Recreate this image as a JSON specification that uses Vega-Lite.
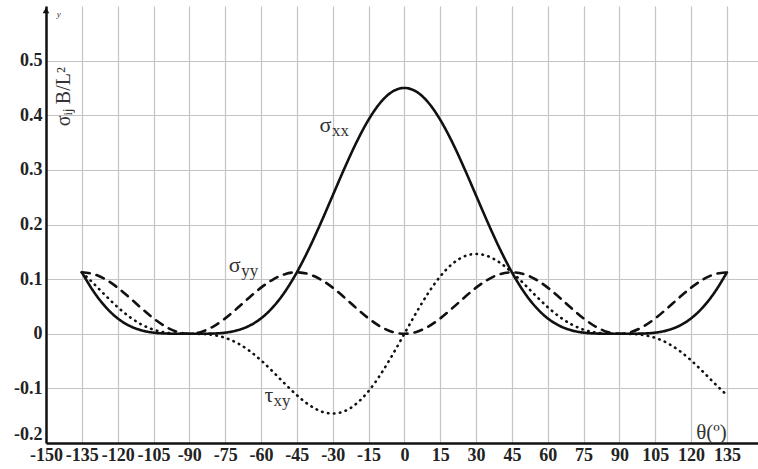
{
  "$schema": "https://vega.github.io/schema/vega-lite/v6.json",
  "width": 712,
  "height": 437,
  "autosize": {"type": "none"},
  "padding": {"left": 46, "top": 6, "right": 0, "bottom": 26},
  "background": "white",
  "view": {"stroke": null},
  "config": {
    "axis": {
      "domainColor": "#111",
      "domainWidth": 2.5,
      "gridColor": "#c4c4c4",
      "gridWidth": 1.2,
      "ticks": false,
      "labelFont": "Liberation Serif",
      "labelFontWeight": "bold",
      "labelFontSize": 18,
      "labelColor": "#222",
      "labelOverlap": false,
      "labelBound": false,
      "labelFlush": false,
      "title": null
    }
  },
  "datasets": {
    "curves": [
      {"theta": -135, "sxx": 0.1125, "syy": 0.1125, "txy": 0.1125},
      {"theta": -130, "sxx": 0.0768, "syy": 0.1091, "txy": 0.0916},
      {"theta": -125, "sxx": 0.0487, "syy": 0.0993, "txy": 0.0696},
      {"theta": -120, "sxx": 0.0281, "syy": 0.0844, "txy": 0.0487},
      {"theta": -115, "sxx": 0.0144, "syy": 0.0660, "txy": 0.0308},
      {"theta": -110, "sxx": 0.0062, "syy": 0.0465, "txy": 0.0169},
      {"theta": -105, "sxx": 0.0020, "syy": 0.0281, "txy": 0.0075},
      {"theta": -100, "sxx": 0.0004, "syy": 0.0132, "txy": 0.0023},
      {"theta": -95, "sxx": 0.0000, "syy": 0.0034, "txy": 0.0003},
      {"theta": -90, "sxx": 0, "syy": 0, "txy": 0},
      {"theta": -85, "sxx": 0.0000, "syy": 0.0034, "txy": -0.0003},
      {"theta": -80, "sxx": 0.0004, "syy": 0.0132, "txy": -0.0023},
      {"theta": -75, "sxx": 0.0020, "syy": 0.0281, "txy": -0.0075},
      {"theta": -70, "sxx": 0.0062, "syy": 0.0465, "txy": -0.0169},
      {"theta": -65, "sxx": 0.0144, "syy": 0.0660, "txy": -0.0308},
      {"theta": -60, "sxx": 0.0281, "syy": 0.0844, "txy": -0.0487},
      {"theta": -55, "sxx": 0.0487, "syy": 0.0993, "txy": -0.0696},
      {"theta": -50, "sxx": 0.0768, "syy": 0.1091, "txy": -0.0916},
      {"theta": -45, "sxx": 0.1125, "syy": 0.1125, "txy": -0.1125},
      {"theta": -40, "sxx": 0.1550, "syy": 0.1091, "txy": -0.1300},
      {"theta": -35, "sxx": 0.2026, "syy": 0.0993, "txy": -0.1419},
      {"theta": -30, "sxx": 0.2531, "syy": 0.0844, "txy": -0.1461},
      {"theta": -25, "sxx": 0.3036, "syy": 0.0660, "txy": -0.1416},
      {"theta": -20, "sxx": 0.3509, "syy": 0.0465, "txy": -0.1277},
      {"theta": -15, "sxx": 0.3917, "syy": 0.0281, "txy": -0.1050},
      {"theta": -10, "sxx": 0.4233, "syy": 0.0132, "txy": -0.0746},
      {"theta": -5, "sxx": 0.4432, "syy": 0.0034, "txy": -0.0388},
      {"theta": 0, "sxx": 0.45, "syy": 0, "txy": 0},
      {"theta": 5, "sxx": 0.4432, "syy": 0.0034, "txy": 0.0388},
      {"theta": 10, "sxx": 0.4233, "syy": 0.0132, "txy": 0.0746},
      {"theta": 15, "sxx": 0.3917, "syy": 0.0281, "txy": 0.1050},
      {"theta": 20, "sxx": 0.3509, "syy": 0.0465, "txy": 0.1277},
      {"theta": 25, "sxx": 0.3036, "syy": 0.0660, "txy": 0.1416},
      {"theta": 30, "sxx": 0.2531, "syy": 0.0844, "txy": 0.1461},
      {"theta": 35, "sxx": 0.2026, "syy": 0.0993, "txy": 0.1419},
      {"theta": 40, "sxx": 0.1550, "syy": 0.1091, "txy": 0.1300},
      {"theta": 45, "sxx": 0.1125, "syy": 0.1125, "txy": 0.1125},
      {"theta": 50, "sxx": 0.0768, "syy": 0.1091, "txy": 0.0916},
      {"theta": 55, "sxx": 0.0487, "syy": 0.0993, "txy": 0.0696},
      {"theta": 60, "sxx": 0.0281, "syy": 0.0844, "txy": 0.0487},
      {"theta": 65, "sxx": 0.0144, "syy": 0.0660, "txy": 0.0308},
      {"theta": 70, "sxx": 0.0062, "syy": 0.0465, "txy": 0.0169},
      {"theta": 75, "sxx": 0.0020, "syy": 0.0281, "txy": 0.0075},
      {"theta": 80, "sxx": 0.0004, "syy": 0.0132, "txy": 0.0023},
      {"theta": 85, "sxx": 0.0000, "syy": 0.0034, "txy": 0.0003},
      {"theta": 90, "sxx": 0, "syy": 0, "txy": 0},
      {"theta": 95, "sxx": 0.0000, "syy": 0.0034, "txy": -0.0003},
      {"theta": 100, "sxx": 0.0004, "syy": 0.0132, "txy": -0.0023},
      {"theta": 105, "sxx": 0.0020, "syy": 0.0281, "txy": -0.0075},
      {"theta": 110, "sxx": 0.0062, "syy": 0.0465, "txy": -0.0169},
      {"theta": 115, "sxx": 0.0144, "syy": 0.0660, "txy": -0.0308},
      {"theta": 120, "sxx": 0.0281, "syy": 0.0844, "txy": -0.0487},
      {"theta": 125, "sxx": 0.0487, "syy": 0.0993, "txy": -0.0696},
      {"theta": 130, "sxx": 0.0768, "syy": 0.1091, "txy": -0.0916},
      {"theta": 135, "sxx": 0.1125, "syy": 0.1125, "txy": -0.1125}
    ],
    "symbols": [
      {"t": "σ", "theta": -35.5, "v": 0.370},
      {"t": "σ", "theta": -73.5, "v": 0.113},
      {"t": "τ", "theta": -58.5, "v": -0.125}
    ],
    "subs": [
      {"t": "xx", "theta": -30.3, "v": 0.362},
      {"t": "yy", "theta": -68.3, "v": 0.106},
      {"t": "xy", "theta": -54.8, "v": -0.132}
    ],
    "ytitle": [
      {"t": "σᵢⱼ B/L²", "theta": -142.3, "v": 0.434}
    ],
    "xtitle": [
      {"t": "θ(º)", "theta": 128.5, "v": -0.192}
    ],
    "arrow": [
      {"theta": -150, "v": 0.592}
    ],
    "ylab": [
      {"t": "y", "theta": -145.5, "v": 0.585}
    ]
  },
  "encoding": {
    "x": {
      "field": "theta",
      "type": "quantitative",
      "scale": {"domain": [-150, 148], "nice": false, "zero": false},
      "axis": {
        "values": [-150, -135, -120, -105, -90, -75, -60, -45, -30, -15, 0, 15, 30, 45, 60, 75, 90, 105, 120, 135],
        "labelPadding": 3,
        "labelOverlap": false,
        "labelSeparation": 0,
        "labelExpr": "replace(format(datum.value, '~g'), '−', '-')"
      }
    },
    "y": {
      "field": "v",
      "type": "quantitative",
      "scale": {"domain": [-0.2, 0.6], "nice": false, "zero": false},
      "axis": {
        "values": [-0.2, -0.1, 0, 0.1, 0.2, 0.3, 0.4, 0.5],
        "labelPadding": 4,
        "labelOverlap": false,
        "labelBaseline": {"condition": {"test": "datum.value < -0.15", "value": "bottom"}, "value": "middle"},
        "labelExpr": "replace(format(datum.value, '~g'), '−', '-')"
      }
    }
  },
  "layer": [
    {
      "data": {"name": "curves"},
      "transform": [{"fold": ["sxx", "syy", "txy"], "as": ["key", "v"]}],
      "mark": {"type": "line", "color": "#111", "strokeWidth": 2.6, "strokeCap": "round", "interpolate": "monotone"},
      "encoding": {
        "strokeDash": {
          "field": "key",
          "type": "nominal",
          "scale": {"domain": ["sxx", "syy", "txy"], "range": [[1, 0], [8, 7], [0.5, 5.5]]},
          "legend": null
        },
        "detail": {"field": "key"}
      }
    },
    {
      "data": {"name": "symbols"},
      "mark": {"type": "text", "font": "Liberation Serif", "fontSize": 22, "color": "#333", "align": "left", "baseline": "alphabetic"},
      "encoding": {"text": {"field": "t"}}
    },
    {
      "data": {"name": "subs"},
      "mark": {"type": "text", "font": "Liberation Serif", "fontSize": 17, "color": "#333", "align": "left", "baseline": "alphabetic"},
      "encoding": {"text": {"field": "t"}}
    },
    {
      "data": {"name": "ytitle"},
      "mark": {"type": "text", "font": "Liberation Serif", "fontSize": 20, "color": "#333", "align": "center", "baseline": "middle", "angle": 270},
      "encoding": {"text": {"field": "t"}}
    },
    {
      "data": {"name": "xtitle"},
      "mark": {"type": "text", "font": "Liberation Serif", "fontSize": 21, "color": "#333", "align": "center", "baseline": "alphabetic"},
      "encoding": {"text": {"field": "t"}}
    },
    {
      "data": {"name": "arrow"},
      "mark": {"type": "point", "shape": "triangle-up", "filled": true, "color": "#111", "size": 45, "opacity": 1},
      "encoding": {}
    },
    {
      "data": {"name": "ylab"},
      "mark": {"type": "text", "font": "Liberation Serif", "fontSize": 9, "fontStyle": "italic", "color": "#333", "align": "left", "baseline": "middle"},
      "encoding": {"text": {"field": "t"}}
    }
  ]
}
